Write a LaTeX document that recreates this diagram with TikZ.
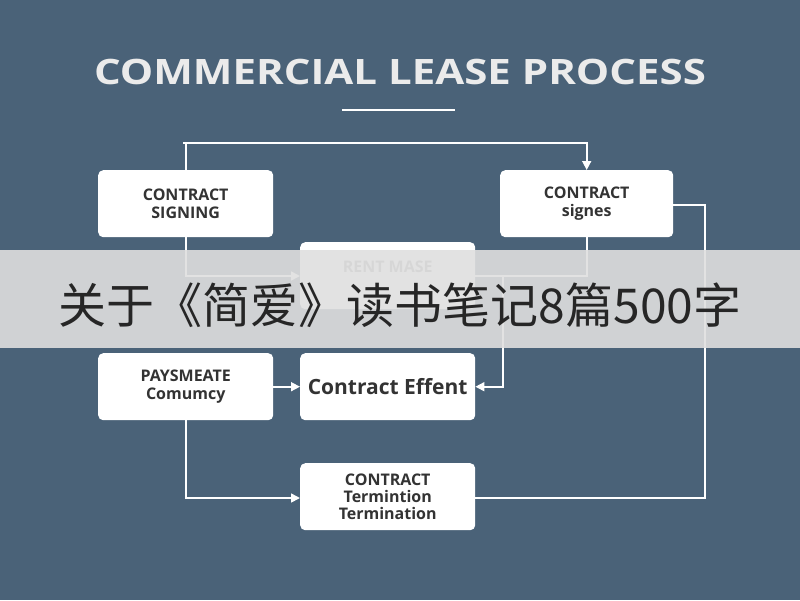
\documentclass[tikz,border=0pt]{standalone}
\usepackage{fontspec}
\setmainfont{Open Sans}
\newfontfamily\cjk{Noto Sans CJK SC}
\usetikzlibrary{arrows.meta}
\definecolor{bg}{HTML}{4A6278}
\begin{document}
\begin{tikzpicture}[x=1pt,y=-1pt,
 box/.style={draw=none,fill=white,rounded corners=5pt,minimum width=175pt,minimum height=67pt,anchor=north west,align=center,font=\fontsize{16}{18}\selectfont\bfseries,text=black!80},
 ln/.style={draw=white,line width=1.6pt},
 ar/.style={ln,-{Triangle[length=9pt,width=9pt]}}]
\fill[bg] (0,0) rectangle (800,600);
\useasboundingbox (0,0) rectangle (800,600);
\node[font=\fontsize{35}{38}\selectfont\bfseries,text=white!92!black] (title) at (400,72) {\scalebox{1.2}[1]{COMMERCIAL LEASE PROCESS}};
\draw[white,line width=2pt] (342,110) -- (455,110);
\node[box] (sign) at (98,170) {CONTRACT\\SIGNING};
\node[box,minimum width=173pt] (signes) at (500,170) {CONTRACT\\signes};
\node[box,text=black!45] (rent) at (300,242) {RENT MASE\\\phantom{X}};
\node[box] (pay) at (98,353) {PAYSMEATE\\Comumcy};
\node[box,font=\fontsize{21}{22}\selectfont\bfseries] (eff) at (300,353) {Contract Effent};
\node[box,font=\fontsize{16}{17}\selectfont\bfseries] (term) at (300,463) {CONTRACT\\Termintion\\Termination};
\draw[ar] (sign.north) |- (183,143) -| (signes.north);
\draw[ar] (sign.south) |- (rent.west |- 0,276);
\draw[ln] (signes.south) |- (rent.east |- 0,276);
\draw[ar] (503,276) |- (eff.east);
\draw[ar] (pay.east) -- (eff.west);
\draw[ar] (pay.south) |- (term.west |- 0,498);
\draw[ln] (term.east |- 0,498) -| (705,205) -- (signes.east |- 0,205);
\fill[gray!25,opacity=0.9] (0,250) rectangle (800,348);
\node[font=\cjk\fontsize{48}{52}\selectfont,text=black!85] (band) at (400,305) {关于《简爱》读书笔记8篇500字};
\end{tikzpicture}
\end{document}
